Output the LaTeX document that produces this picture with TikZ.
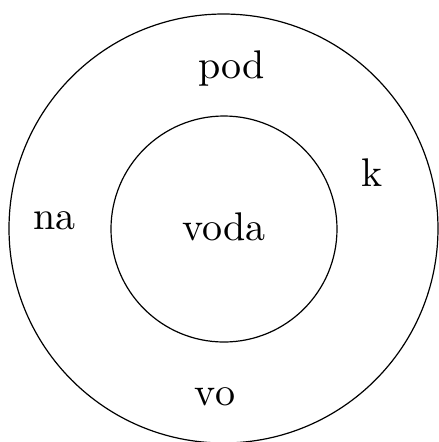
\documentclass[tikz,border=0pt]{standalone}
\usepackage{tikz}

\begin{document}
\begin{tikzpicture}[
      x=0.25pt, y=-0.25pt,
      ring/.style={draw, circle, line width=0.3pt, inner sep=0pt},
      word/.style={inner sep=0pt, anchor=base}
    ]
    \useasboundingbox (0,0) rectangle (439,442);
    \node[ring, minimum size=107.25pt] (outer) at (223.5,228.5) {};
    \node[ring, minimum size=56.5pt] (inner) at (224,229) {};
    \node[word] (voda) at (224,240) {voda};
    \node[word] (pod) at (231.5,78) {pod};
    \node[word] (k) at (372,186) {k};
    \node[word] (na) at (54.5,229) {na};
    \node[word] (vo) at (215,405) {vo};
  \end{tikzpicture}
\end{document}
